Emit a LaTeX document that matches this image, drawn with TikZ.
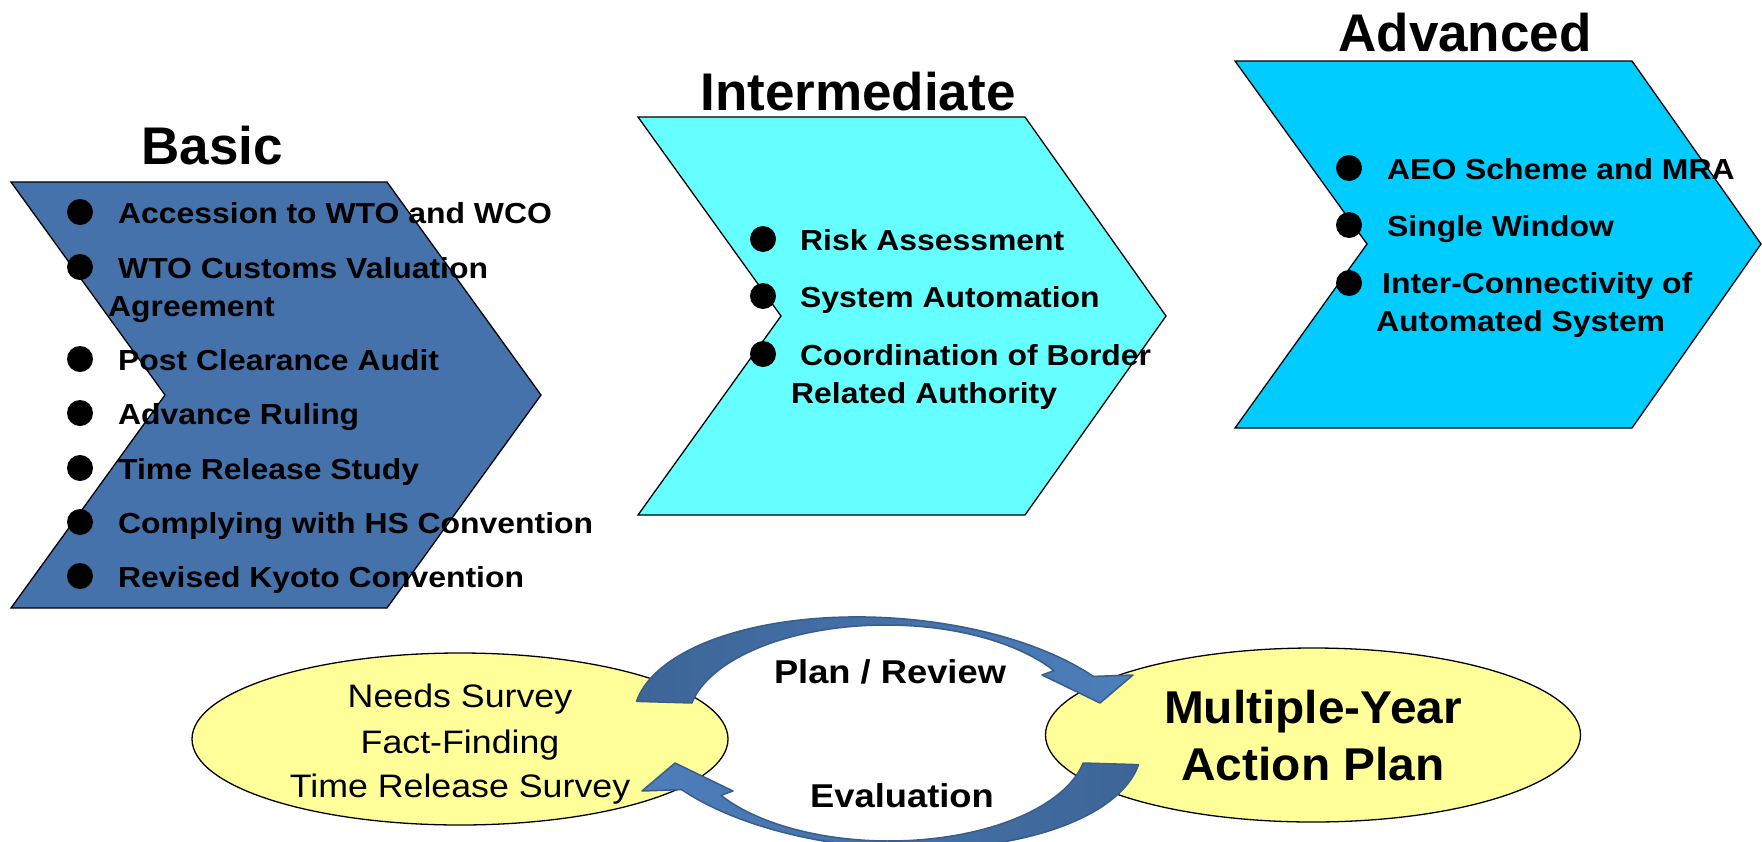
\documentclass[tikz,border=0pt]{standalone}
\usepackage{fontspec}
\setmainfont{Liberation Sans}
\newfontfamily\bodyfont[FakeStretch=1.1]{Liberation Sans}
\newfontfamily\planfont[FakeStretch=1.04]{Liberation Sans}
\usetikzlibrary{shapes.geometric}
\definecolor{basicblue}{HTML}{4572AA}
\definecolor{intercyan}{HTML}{66FFFF}
\definecolor{advcyan}{HTML}{00CCFF}
\definecolor{ellyellow}{HTML}{FFFF99}
\definecolor{arrlight}{HTML}{4D7FBC}
\definecolor{arrdark}{HTML}{3D6597}
\definecolor{arrline}{HTML}{385D8A}
\tikzset{
  chev/.style={draw=black, line width=1.3pt, line join=miter},
  item/.style={anchor=base west, inner sep=0pt, font=\bodyfont\bfseries\fontsize{29}{34}\selectfont},
  ttl/.style={anchor=base, inner sep=0pt, font=\bfseries\fontsize{53}{60}\selectfont},
  dot/.style={circle, fill=black, minimum size=26pt, inner sep=0pt},
  oval/.style={ellipse, draw=black, line width=1.3pt, fill=ellyellow, inner sep=0pt},
  ovaltext/.style={anchor=base, inner sep=0pt, font=\bodyfont\fontsize{32.5}{38}\selectfont},
  plantext/.style={anchor=base, inner sep=0pt, font=\planfont\bfseries\fontsize{46}{52}\selectfont},
  cyctext/.style={anchor=base, inner sep=0pt, font=\bodyfont\bfseries\fontsize{33}{38}\selectfont},
  blockarrow/.style={draw=arrline, line width=1.5pt, line join=round}
}
\begin{document}
\begin{tikzpicture}[x=1pt,y=-1pt]
\useasboundingbox (0,0) rectangle (1762,841);

% ---------- chevrons ----------
\path[chev, fill=basicblue] (11,182) -- (387,182) -- (541,395) -- (387,608) -- (11,608) -- (165,395) -- cycle;
\path[chev, fill=intercyan] (638,117) -- (1025,117) -- (1166,316) -- (1025,515) -- (638,515) -- (781,316) -- cycle;
\path[chev, fill=advcyan] (1235,61) -- (1632,61) -- (1761,244) -- (1632,428) -- (1235,428) -- (1367,244) -- cycle;

% ---------- titles ----------
\node[ttl] (tbasic) at (212,164) {Basic};
\node[ttl] (tinter) at (858,110) {Intermediate};
\node[ttl] (tadv) at (1465,51) {Advanced};

% ---------- Basic items ----------
\node[dot] (b1) at (80,212) {};
\node[dot] (b2) at (80,267) {};
\node[dot] (b3) at (80,359) {};
\node[dot] (b4) at (80,413) {};
\node[dot] (b5) at (80,468) {};
\node[dot] (b6) at (80,522) {};
\node[dot] (b7) at (80,576) {};
\node[item] (bt1) at (118,223) {Accession to WTO and WCO};
\node[item] (bt2) at (118,278) {WTO Customs Valuation};
\node[item] (bt2b) at (108,316) {Agreement};
\node[item] (bt3) at (118,370) {Post Clearance Audit};
\node[item] (bt4) at (118,424) {Advance Ruling};
\node[item] (bt5) at (118,479) {Time Release Study};
\node[item] (bt6) at (118,533) {Complying with HS Convention};
\node[item] (bt7) at (118,587) {Revised Kyoto Convention};

% ---------- Intermediate items ----------
\node[dot] (i1) at (763,239) {};
\node[dot] (i2) at (763,296) {};
\node[dot] (i3) at (763,354) {};
\node[item] (it1) at (800,250) {Risk Assessment};
\node[item] (it2) at (800,307) {System Automation};
\node[item] (it3) at (800,365) {Coordination of Border};
\node[item] (it3b) at (791,403) {Related Authority};

% ---------- Advanced items ----------
\node[dot] (a1) at (1349,168) {};
\node[dot] (a2) at (1349,225) {};
\node[dot] (a3) at (1349,283) {};
\node[item] (at1) at (1387,179) {AEO Scheme and MRA};
\node[item] (at2) at (1387,236) {Single Window};
\node[item] (at3) at (1382,293) {Inter-Connectivity of};
\node[item] (at3b) at (1376,331) {Automated System};

% ---------- bottom ellipses ----------
\node[oval, minimum width=536pt, minimum height=172pt] (needs) at (460,739) {};
\node[oval, minimum width=535pt, minimum height=174pt] (plan) at (1313,735) {};
\node[ovaltext] (n1) at (460,707) {Needs Survey};
\node[ovaltext] (n2) at (460,753) {Fact-Finding};
\node[ovaltext] (n3) at (460,797) {Time Release Survey};
\node[plantext] (p1) at (1313,723) {Multiple-Year};
\node[plantext] (p2) at (1313,780) {Action Plan};

% ---------- circular block arrows ----------
% Plan / Review : from Needs Survey over the top to the Action Plan
\path[blockarrow, left color=arrdark, right color=arrlight, middle color=arrdark!55!arrlight]
  plot[domain=187:322, samples=70, variable=\t]
    ({888+255*cos(\t)*0.99756-115*sin(\t)*0.069756}, {733+255*cos(\t)*0.069756+115*sin(\t)*0.99756})
  -- (1133,675) -- (1100,703) -- (1042,675)
  -- plot[domain=328:191.3, samples=70, variable=\t] ({886+198*cos(\t)}, {722+97*sin(\t)})
  -- cycle;
% Evaluation : from the Action Plan under the bottom back to Needs Survey
\path[blockarrow, left color=arrlight, right color=arrdark, middle color=arrdark!55!arrlight]
  plot[domain=187:322, samples=70, variable=\t]
    ({1775-(888+255*cos(\t)*0.99756-115*sin(\t)*0.069756)}, {1466-(733+255*cos(\t)*0.069756+115*sin(\t)*0.99756)})
  -- (642,791) -- (675,763) -- (733,791)
  -- plot[domain=328:191.3, samples=70, variable=\t] ({1775-(886+198*cos(\t))}, {1466-(722+97*sin(\t))})
  -- cycle;

\node[cyctext] (review) at (890,683) {Plan / Review};
\node[cyctext] (evaluation) at (902,807) {Evaluation};
\end{tikzpicture}
\end{document}
